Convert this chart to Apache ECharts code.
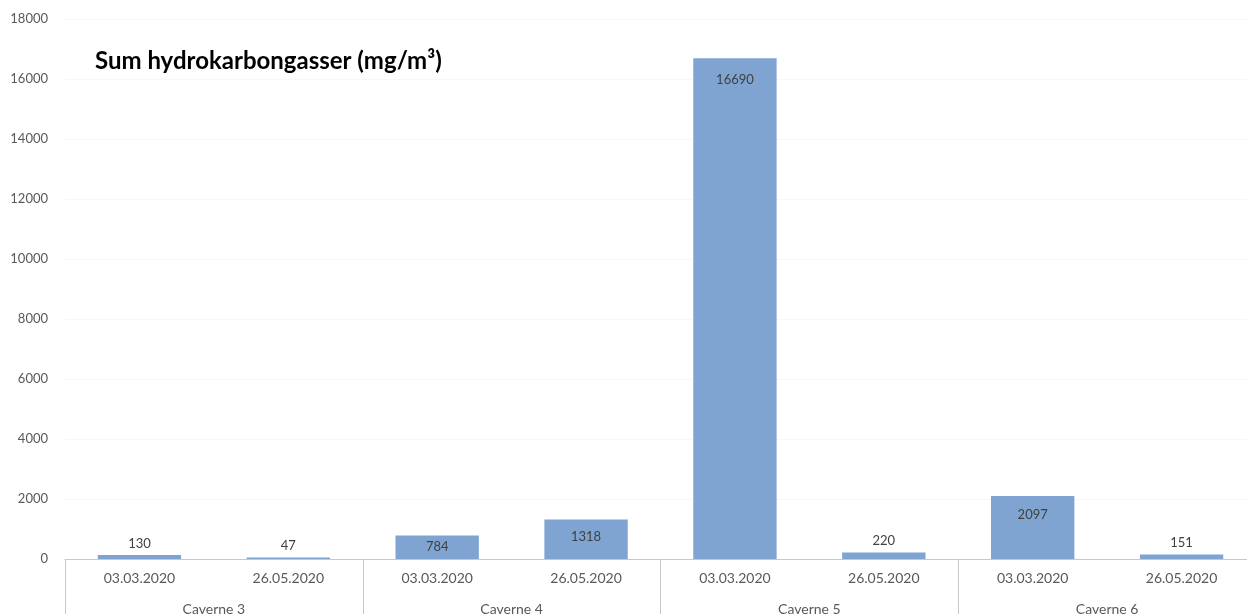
<!DOCTYPE html>
<html>
<head>
<meta charset="utf-8">
<script src="https://cdn.jsdelivr.net/npm/echarts@6/dist/echarts.min.js"></script>
<style>
  html, body { margin: 0; padding: 0; background: #fff; }
  #chart { width: 1247px; height: 614px; }
</style>
</head>
<body>
<div id="chart"></div>
<script>
// Sampling dates per cavern and the cavern groups
const dates = ['03.03.2020', '26.05.2020', '03.03.2020', '26.05.2020', '03.03.2020', '26.05.2020', '03.03.2020', '26.05.2020'];
const caverns = ['Caverne 3', 'Caverne 4', 'Caverne 5', 'Caverne 6'];
// Sum of hydrocarbon gases, mg/m³
const values = [130, 47, 784, 1318, 16690, 220, 2097, 151];

// Label placement: tall bars carry the value inside, short bars above
const labelInside = [false, false, true, true, true, false, true, false];
const labelGap = [5, 5, 5, 11, 15, 5, 12, 5];

const font = 'Lato, "Open Sans", sans-serif';
const axisGray = '#595959';

const chart = echarts.init(document.getElementById('chart'));
chart.setOption({
  animation: false,
  title: {
    text: 'Sum hydrokarbongasser (mg/m³)',
    left: 90, top: 44,
    textStyle: { fontFamily: font, fontWeight: 'bold', fontSize: 24, color: '#000' }
  },
  grid: { left: 65, top: 19, right: -9, bottom: 55, containLabel: false, outerBoundsMode: 'none' },
  xAxis: [
    {
      type: 'category', data: dates, position: 'bottom',
      axisLine: { lineStyle: { color: '#c8c8c8', width: 1 } },
      axisTick: { show: false },
      axisLabel: { fontFamily: font, fontSize: 14, color: axisGray, margin: 12 }
    },
    {
      type: 'category', data: caverns, position: 'bottom',
      axisLine: { show: false },
      axisTick: { show: true, length: 56, lineStyle: { color: '#c8c8c8' }, alignWithLabel: false },
      axisLabel: { fontFamily: font, fontSize: 14, color: axisGray, margin: 43 }
    }
  ],
  yAxis: {
    type: 'value', min: 0, max: 18000, interval: 2000,
    axisLine: { show: false }, axisTick: { show: false },
    axisLabel: { fontFamily: font, fontSize: 13, color: axisGray, margin: 17, formatter: v => String(v) },
    splitLine: { lineStyle: { color: '#f7f7f7', width: 1 } }
  },
  series: [{
    type: 'bar', xAxisIndex: 0,
    barWidth: '56%',
    itemStyle: { color: '#7fa4d2' },
    data: values.map((v, i) => ({
      value: v,
      label: {
        show: true,
        position: labelInside[i] ? 'insideTop' : 'top',
        distance: labelGap[i],
        fontFamily: font, fontSize: 13, color: '#404040'
      }
    }))
  }]
});
</script>
</body>
</html>
